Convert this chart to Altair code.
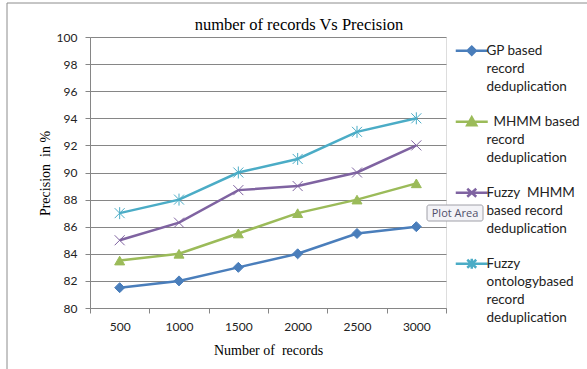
import altair as alt
import pandas as pd

# ---- data ----
records = ["500", "1000", "1500", "2000", "2500", "3000"]
series_names = [
    "GP based|record|deduplication",
    "\u200b\u00a0\u00a0MHMM based|record|deduplication",
    "Fuzzy\u00a0\u00a0MHMM|based record|deduplication",
    "Fuzzy|ontologybased|record|deduplication",
]
gp_values = [81.5, 82.0, 83.0, 84.0, 85.5, 86.0]
mhmm_values = [83.5, 84.0, 85.5, 87.0, 88.0, 89.2]
fuzzy_mhmm_values = [85.0, 86.3, 88.7, 89.0, 90.0, 92.0]
fuzzy_onto_values = [87.0, 88.0, 90.0, 91.0, 93.0, 94.0]
y_ticks = [80, 82, 84, 86, 88, 90, 92, 94, 96, 98, 100]

all_values = [gp_values, mhmm_values, fuzzy_mhmm_values, fuzzy_onto_values]
rows = []
for name, vals in zip(series_names, all_values):
    for r, v in zip(records, vals):
        rows.append({"records": r, "value": v, "series": name, "series_pt": name})
df = pd.DataFrame(rows)

colors = ["#4a7ebb", "#9bbb59", "#7f63a1", "#4bacc6"]
pt_shapes = [
    "diamond",
    "triangle-up",
    "M-1,-1L1,1M-1,1L1,-1",
    "M-1,-1L1,1M-1,1L1,-1M0,-1.2L0,1.2",
]
dy = 1.4
leg_shapes = [
    f"M-3.2,{dy}L3.2,{dy}M-0.8,{dy}L0,{dy-0.8}L0.8,{dy}L0,{dy+0.8}Z",
    f"M-3.2,{dy}L3.2,{dy}M0,{dy-0.9}L0.9,{dy+0.7}L-0.9,{dy+0.7}Z",
    f"M-3.2,{dy}L3.2,{dy}M-0.9,{dy-0.8}L0.9,{dy+0.8}M-0.9,{dy+0.8}L0.9,{dy-0.8}",
    f"M-3.2,{dy}L3.2,{dy}M-0.9,{dy-0.8}L0.9,{dy+0.8}M-0.9,{dy+0.8}L0.9,{dy-0.8}M0,{dy-1}L0,{dy+1}",
]

serif = "Liberation Serif"
sans = "Lato"
grey = "#868686"

x_enc = alt.X(
    "records:N",
    sort=records,
    scale=alt.Scale(type="band", paddingInner=0, paddingOuter=0),
    axis=alt.Axis(
        title="Number of\u00a0\u00a0records",
        titleFont=serif, titleFontSize=14, titleFontWeight="normal", titleColor="black",
        titleY=46, titleBaseline="alphabetic",
        labelAngle=0, labelFont=sans, labelFontSize=12, labelColor="#222222", labelPadding=8,
        tickBand="extent", tickSize=5, tickColor=grey, domainColor=grey, grid=False,
    ),
)
y_enc = alt.Y(
    "value:Q",
    scale=alt.Scale(domain=[80, 100], nice=False, zero=False),
    axis=alt.Axis(
        values=y_ticks,
        title="Precision\u00a0\u00a0in %",
        titleFont=serif, titleFontSize=14, titleFontWeight="normal", titleColor="black",
        titleX=-41, titleY=136, titleAlign="center", titleAngle=-90, titleBaseline="alphabetic",
        labelFont=sans, labelFontSize=12, labelColor="#222222", labelPadding=8,
        tickSize=5, tickColor=grey, domainColor=grey, grid=True, gridColor=grey, gridOpacity=1,
    ),
)

cscale = alt.Scale(domain=series_names, range=colors)

base = alt.Chart(df).encode(x=x_enc, y=y_enc)

lines = base.mark_line(strokeWidth=2.5).encode(
    color=alt.Color("series:N", scale=cscale, legend=None)
)
points = base.mark_point(filled=True, opacity=1, strokeWidth=1).encode(
    color=alt.Color("series:N", scale=cscale, legend=None),
    stroke=alt.Stroke("series:N", scale=cscale, legend=None),
    shape=alt.Shape("series_pt:N", scale=alt.Scale(domain=series_names, range=pt_shapes), legend=None),
    size=alt.value(100),
)

leg = alt.Legend(
    title=None, orient="none", legendX=375, legendY=0, padding=0,
    rowPadding=14, symbolSize=100, symbolStrokeWidth=2.5, labelOffset=8,
    labelFont=sans, labelFontSize=13.5, labelColor="#222222", labelBaseline="top",
    labelExpr="split(datum.label, '|')", labelLimit=300, symbolOpacity=1,
)
legend_layer = alt.Chart(df).transform_filter("false").mark_point(filled=True, opacity=1).encode(
    color=alt.Color("series:N", scale=cscale, legend=leg),
    stroke=alt.Stroke("series:N", scale=cscale, legend=leg),
    shape=alt.Shape("series:N", scale=alt.Scale(domain=series_names, range=leg_shapes), legend=leg),
)

deco = pd.DataFrame({"a": [0]})
border_left = alt.Chart(deco).mark_rule(color="#8c8c8c", strokeWidth=1).encode(
    x=alt.value(-83), y=alt.value(-34), y2=alt.value(332)
)
border_top = alt.Chart(deco).mark_rule(color="#8c8c8c", strokeWidth=1).encode(
    x=alt.value(-83), x2=alt.value(497), y=alt.value(-34)
)
tip_box = alt.Chart(deco).mark_rect(fill="#f3f3f7", stroke="#a0a0a8", strokeWidth=1, cornerRadius=2).encode(
    x=alt.value(337), x2=alt.value(393), y=alt.value(168), y2=alt.value(184)
)
tip_text = alt.Chart(deco).mark_text(font="Open Sans", fontSize=11, color="#50506a").encode(
    x=alt.value(365), y=alt.value(176.5), text=alt.value("Plot Area")
)

chart = alt.layer(
    border_left, border_top, lines, points, legend_layer, tip_box, tip_text
).resolve_scale(
    color="independent", stroke="independent", shape="independent"
).properties(
    width=356, height=271,
    autosize=alt.AutoSizeParams(type="none"),
    padding={"left": 90, "top": 37, "right": 141, "bottom": 61},
    title=alt.TitleParams(
        "number of records Vs Precision", font=serif, fontSize=16.5, fontWeight="normal",
        color="black", anchor="middle", dx=31, dy=31, offset=0,
    ),
    background="white",
).configure_view(stroke=None).configure(style={"guide-label": {"lineHeight": 18}})

chart.save("out.html", embed_options={"renderer": "svg", "actions": False})
